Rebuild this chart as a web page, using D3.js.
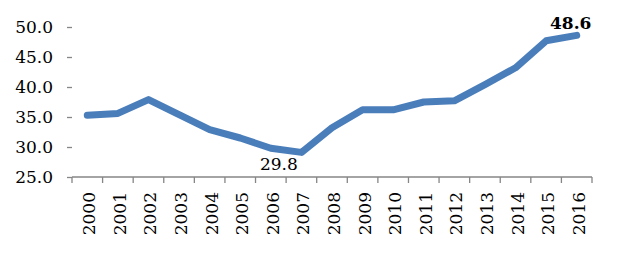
<!DOCTYPE html>
<html>
<head>
<meta charset="utf-8">
<script src="https://cdn.jsdelivr.net/npm/d3@7"></script>
<style>
  body { margin: 0; background: #fff; }
  svg text { font-family: "DejaVu Serif", serif; fill: #000; }
</style>
</head>
<body>
<div id="chart"></div>
<script>
// data
var years = ["2000", "2001", "2002", "2003", "2004", "2005", "2006", "2007", "2008",
             "2009", "2010", "2011", "2012", "2013", "2014", "2015", "2016"];
var values = [35.3, 35.6, 37.9, 35.4, 32.9, 31.5, 29.8, 29.1, 33.2,
              36.2, 36.2, 37.5, 37.7, 40.4, 43.2, 47.7, 48.6];
var yTicks = [25, 30, 35, 40, 45, 50];

var width = 620, height = 253;
var margin = {top: 27, right: 28, bottom: 76, left: 72};

var svg = d3.select("#chart").append("svg")
    .attr("width", width)
    .attr("height", height);

var x = d3.scaleBand()
    .domain(years)
    .range([margin.left, width - margin.right]);

var y = d3.scaleLinear()
    .domain([25, 50])
    .range([height - margin.bottom, margin.top]);

// y axis
var yAxis = svg.append("g")
    .attr("class", "y axis")
    .attr("transform", "translate(" + margin.left + ",0)")
    .call(d3.axisLeft(y)
      .tickValues(yTicks)
      .tickSize(5)
      .tickPadding(14)
      .tickFormat(d3.format(".1f")));

// x axis, ticks at band edges
var xAxis = svg.append("g")
    .attr("class", "x axis")
    .attr("transform", "translate(0," + y(25) + ")");

xAxis.append("line")
    .attr("x1", x.range()[0])
    .attr("x2", x.range()[1]);

var edges = years.map(function(d) { return x(d); }).concat([x.range()[1]]);
xAxis.selectAll(".tick")
    .data(edges)
  .enter().append("line")
    .attr("class", "tick")
    .attr("x1", function(d) { return d; })
    .attr("x2", function(d) { return d; })
    .attr("y1", 0)
    .attr("y2", 6);

xAxis.selectAll(".lbl")
    .data(years)
  .enter().append("text")
    .attr("class", "lbl")
    .attr("transform", function(d) {
      return "translate(" + (x(d) + x.bandwidth() / 2 + 8) + ",15) rotate(-90)";
    })
    .attr("text-anchor", "end")
    .style("font-size", "17px")
    .text(function(d) { return d; });

svg.selectAll(".axis path").remove();
svg.selectAll(".axis line").attr("stroke", "#868686").attr("stroke-width", 1.3);
yAxis.selectAll("text").style("font-size", "17px");

// the line
var line = d3.line()
    .x(function(d, i) { return x(years[i]) + x.bandwidth() / 2; })
    .y(function(d) { return y(d); });

svg.append("path")
    .datum(values)
    .attr("d", line)
    .attr("fill", "none")
    .attr("stroke", "#4a7ebb")
    .attr("stroke-width", 7)
    .attr("stroke-linejoin", "round")
    .attr("stroke-linecap", "round");

// value labels
var iMin = years.indexOf("2006"), iMax = years.indexOf("2016");

svg.append("text")
    .attr("x", x(years[iMin]) + x.bandwidth() / 2 + 8)
    .attr("y", y(values[iMin]) + 22)
    .attr("text-anchor", "middle")
    .style("font-size", "17px")
    .text(values[iMin].toFixed(1));

svg.append("text")
    .attr("x", x(years[iMax]) + x.bandwidth() / 2 - 6)
    .attr("y", y(values[iMax]) - 6.5)
    .attr("text-anchor", "middle")
    .style("font-size", "17px")
    .style("font-weight", "bold")
    .text(values[iMax].toFixed(1));
</script>
</body>
</html>
